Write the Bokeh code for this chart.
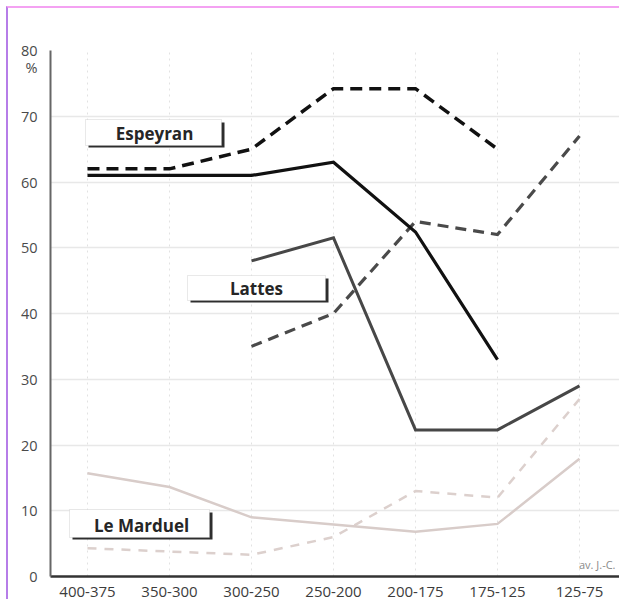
from bokeh.plotting import figure
from bokeh.models import Range1d, FixedTicker, BoxAnnotation, Label
from bokeh.embed import file_html
from bokeh.resources import INLINE

# ---------------- data ----------------
periods = ["400-375", "350-300", "300-250", "250-200", "200-175", "175-125", "125-75"]
espeyran_solid = [61, 61, 61, 63, 52.4, 33, None]
espeyran_dashed = [62, 62, 65, 74.2, 74.2, 65, None]
lattes_solid = [None, None, 48, 51.5, 22.3, 22.3, 29]
lattes_dashed = [None, None, 35, 40, 54, 52, 67]
marduel_solid = [15.7, 13.6, 9, 7.9, 6.8, 8, 17.9]
marduel_dashed = [4.3, 3.8, 3.3, 6, 13, 12, 27]
y_ticks = [0, 10, 20, 30, 40, 50, 60, 70, 80]
unit_label = "%"
era_label = "av. J.-C."
series_names = ["Espeyran", "Lattes", "Le Marduel"]

# ---------------- layout (page pixel coordinates) ----------------
PAGE_W, PAGE_H = 621, 601
OFF = 8                      # canvas starts after margin + edge line
FL, FR, FT, FB = 50, 621, 50, 576
X0, X1 = -0.451, 6.512
Y0, Y1 = 0, 80


def px2x(px):
    return X0 + (px - FL) * (X1 - X0) / (FR - FL)


def px2y(py):
    return Y0 + (FB - py) * (Y1 - Y0) / (FB - FT)


p = figure(width=PAGE_W - OFF, height=PAGE_H - OFF,
           x_range=Range1d(X0, X1), y_range=Range1d(Y0, Y1),
           min_border_left=FL - OFF, min_border_right=PAGE_W - FR,
           min_border_top=FT - OFF, min_border_bottom=PAGE_H - FB,
           toolbar_location=None, output_backend="svg",
           margin=(6, 0, 0, 6),
           styles={"border-top": "2px solid #f4a2f2", "border-left": "2px solid #b67de8"})
p.outline_line_color = None
p.background_fill_color = "white"
p.border_fill_color = "white"

FONT = "Open Sans"

# x axis
p.xaxis.ticker = FixedTicker(ticks=list(range(len(periods))))
p.xaxis.major_label_overrides = {i: lab for i, lab in enumerate(periods)}
p.xaxis.major_tick_line_color = None
p.xaxis.minor_tick_line_color = None
p.xaxis.axis_line_color = "#333333"
p.xaxis.axis_line_width = 2.5
p.xaxis.major_label_standoff = 4
p.xaxis.major_label_text_font = FONT
p.xaxis.major_label_text_font_size = "15px"
p.xaxis.major_label_text_color = "#3c3c3c"

# y axis (the unit sign sits under the top value as an extra label)
unit_pos = round(px2y(67), 2)
p.yaxis.ticker = FixedTicker(ticks=y_ticks + [unit_pos])
p.yaxis.major_label_overrides = {unit_pos: unit_label}
p.yaxis.major_tick_line_color = None
p.yaxis.minor_tick_line_color = None
p.yaxis.axis_line_color = "#666666"
p.yaxis.axis_line_width = 2
p.yaxis.major_label_standoff = 7
p.yaxis.major_label_text_font = FONT
p.yaxis.major_label_text_font_size = "14.5px"
p.yaxis.major_label_text_color = "#4a4a4a"

# grids
p.ygrid.ticker = FixedTicker(ticks=y_ticks[1:])
p.ygrid.grid_line_color = "#e8e8e8"
p.ygrid.grid_line_width = 1.5
p.xgrid.ticker = FixedTicker(ticks=list(range(len(periods))))
p.xgrid.grid_line_color = "#e2e2e2"
p.xgrid.grid_line_dash = "2 4"
p.xgrid.grid_line_width = 1


def draw(vals, color, width, dash="solid"):
    xs = [i for i, v in enumerate(vals) if v is not None]
    ys = [v for v in vals if v is not None]
    p.line(xs, ys, line_color=color, line_width=width, line_dash=dash,
           line_join="miter")


draw(marduel_dashed, "#dcd0cd", 2.5, "9 8")
draw(marduel_solid, "#d8ccc9", 2.5)
draw(lattes_dashed, "#4a4a4a", 3.2, "11 7")
draw(lattes_solid, "#474747", 3)
draw(espeyran_dashed, "#111111", 3.5, "12 7")
draw(espeyran_solid, "#111111", 3.2)


# label boxes (pixel geometry -> data coords)
def label_box(text, l, t, r, b, cx, cy):
    p.add_layout(BoxAnnotation(left=px2x(l + 3), right=px2x(r + 3), top=px2y(t + 3),
                               bottom=px2y(b + 2), fill_color="#2e2e2e", fill_alpha=1,
                               line_color=None))
    p.add_layout(BoxAnnotation(left=px2x(l), right=px2x(r), top=px2y(t), bottom=px2y(b),
                               fill_color="white", fill_alpha=1, line_color="#b5b5b5",
                               line_width=1))
    p.add_layout(Label(x=px2x(cx), y=px2y(cy), text=text, text_align="center",
                       text_baseline="middle", text_font=FONT, text_font_size="17px",
                       text_font_style="bold", text_color="#262626"))


label_box(series_names[0], 85, 119, 221, 145, 154, 133)
label_box(series_names[1], 187, 275, 325, 300, 256, 288)
label_box(series_names[2], 69, 509, 209, 537, 141, 525)

p.add_layout(Label(x=px2x(615), y=px2y(564), text=era_label, text_align="right",
                   text_baseline="middle", text_font=FONT, text_font_size="11px",
                   text_color="#8a8a8a"))

open("out.html", "w").write(file_html(p, INLINE))
